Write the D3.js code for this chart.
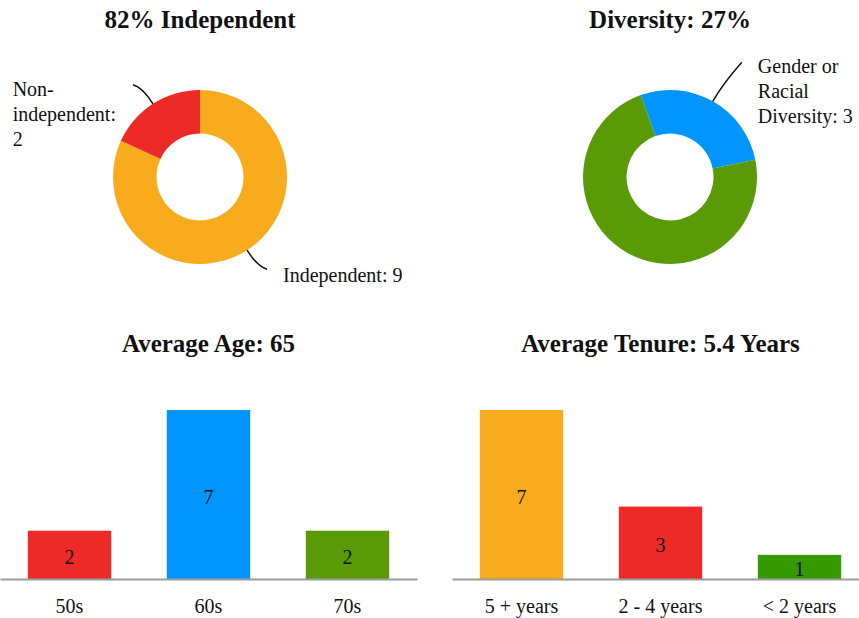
<!DOCTYPE html>
<html>
<head>
<meta charset="utf-8">
<script src="https://cdn.jsdelivr.net/npm/d3@7"></script>
<style>
  body { margin: 0; background: #fff; }
  svg text { font-family: "Liberation Serif", "Times New Roman", serif; fill: #111; }
  .title { font-size: 25px; font-weight: bold; text-anchor: middle; }
  .lbl { font-size: 20px; }
  .axis path { stroke: #9b9b9b; stroke-width: 2; }
  .axis text { font-size: 20px; font-family: "Liberation Serif", serif; fill: #111; }
</style>
</head>
<body>
<svg id="chart" width="859" height="618"></svg>
<script>
// datos
var indepLabels = ["Independent", "Non-independent"];
var indepValues = [9, 2];
var indepColors = ["#f8ab1c", "#ed2a27"];

var divLabels = ["Gender or Racial Diversity", "Other"];
var divValues = [3, 8];
var divColors = ["#0095fd", "#5a9a07"];

var ageCats = ["50s", "60s", "70s"];
var ageValues = [2, 7, 2];
var ageColors = ["#ed2a27", "#0095fd", "#5a9a07"];

var tenureCats = ["5 + years", "2 - 4 years", "< 2 years"];
var tenureValues = [7, 3, 1];
var tenureColors = ["#f8ab1c", "#ed2a27", "#359a00"];

var svg = d3.select('#chart');

// parte superior: donas
function donut(opts) {
    var g = svg.append('g').attr('transform', 'translate(' + opts.cx + ',' + opts.cy + ')');
    var rOuter = 87, rInner = 43.5;

    svg.append('text').attr('class', 'title')
        .attr('x', opts.cx).attr('y', 28).text(opts.title);

    var pie = d3.pie().sort(null)
        .startAngle(opts.start).endAngle(opts.start + 2 * Math.PI);
    var arcs = pie(opts.values);
    var arc = d3.arc().innerRadius(rInner).outerRadius(rOuter);

    g.selectAll('path.slice').data(arcs).enter().append('path')
        .attr('class', 'slice')
        .attr('d', arc)
        .attr('fill', function (d, i) { return opts.colors[i]; });

    // etiquetas con linea guia
    opts.shown.forEach(function (idx, k) {
        var d = arcs[idx];
        var a = (d.startAngle + d.endAngle) / 2;
        var ux = Math.sin(a), uy = -Math.cos(a);
        var sx = ux * rOuter, sy = uy * rOuter;
        var cx = sx + ux * 20, cy = sy + uy * 20;
        var right = ux > 0;
        var ex = right ? sx + opts.reach[0] : sx - opts.reach[0];
        var ey = sy + (uy > 0 ? opts.reach[1] : -opts.reach[1]);

        g.append('path')
            .attr('d', 'M' + sx + ',' + sy + 'Q' + cx + ',' + cy + ' ' + ex + ',' + ey)
            .attr('fill', 'none').attr('stroke', '#111').attr('stroke-width', 1.5);

        var txt = opts.labels[idx] + ': ' + opts.values[idx];
        var t = g.append('text').attr('class', 'lbl');
        var lines = wrap(t, txt, opts.maxW[k]);
        var widest = 0;
        t.text(null);
        lines.forEach(function (ln, j) {
            var ts = t.append('tspan').attr('dy', j === 0 ? 0 : 25).text(ln);
            widest = Math.max(widest, ts.node().getComputedTextLength());
        });
        var tx = right ? ex + 16 : ex - 17 - widest;
        t.attr('x', tx).attr('y', ey + (lines.length > 1 ? 11 : 13));
        t.selectAll('tspan').attr('x', tx);
    });
}

function wrap(t, str, maxW) {
    var tokens = str.replace(/-/g, '- ').split(' ').filter(function (s) { return s.length; });
    var lines = [], cur = '';
    tokens.forEach(function (tok) {
        var joiner = (cur === '' || cur.slice(-1) === '-') ? '' : ' ';
        var test = cur + joiner + tok;
        t.text(test);
        if (cur !== '' && t.node().getComputedTextLength() > maxW) {
            lines.push(cur);
            cur = tok;
        } else {
            cur = test;
        }
    });
    if (cur) lines.push(cur);
    return lines;
}

donut({ cx: 200, cy: 177, title: '82% Independent', values: indepValues, labels: indepLabels,
    colors: indepColors, start: 0, shown: [0, 1], maxW: [200, 110], reach: [20, 19] });
donut({ cx: 670, cy: 177, title: 'Diversity: 27%', values: divValues, labels: divLabels,
    colors: divColors, start: -0.342, shown: [0], maxW: [100], reach: [29, 39] });

// parte inferior: barras
function bars(opts) {
    var x = d3.scaleBand().domain(opts.cats).range([opts.x0, opts.x0 + 417])
        .paddingInner(0.4).paddingOuter(0.2);
    var y = d3.scaleLinear().domain([0, 7]).range([579, 410]);

    svg.append('text').attr('class', 'title')
        .attr('x', opts.x0 + 208.5).attr('y', 352).text(opts.title);

    var g = svg.append('g');
    g.selectAll('rect').data(opts.values).enter().append('rect')
        .attr('x', function (d, i) { return x(opts.cats[i]); })
        .attr('y', function (d) { return y(d); })
        .attr('width', x.bandwidth())
        .attr('height', function (d) { return y(0) - y(d); })
        .attr('fill', function (d, i) { return opts.colors[i]; });

    g.selectAll('text.val').data(opts.values).enter().append('text')
        .attr('class', 'lbl val')
        .attr('text-anchor', 'middle')
        .attr('x', function (d, i) { return x(opts.cats[i]) + x.bandwidth() / 2; })
        .attr('y', function (d) { return (y(0) + y(d)) / 2; })
        .attr('dy', '0.45em')
        .text(function (d) { return d; });

    var axis = d3.axisBottom(x).tickSize(0).tickPadding(20).tickSizeOuter(0);
    svg.append('g').attr('class', 'axis')
        .attr('transform', 'translate(0,' + y(0) + ')')
        .call(axis);
}

bars({ x0: 0, title: 'Average Age: 65', cats: ageCats, values: ageValues, colors: ageColors });
bars({ x0: 452, title: 'Average Tenure: 5.4 Years', cats: tenureCats, values: tenureValues, colors: tenureColors });
</script>
</body>
</html>
